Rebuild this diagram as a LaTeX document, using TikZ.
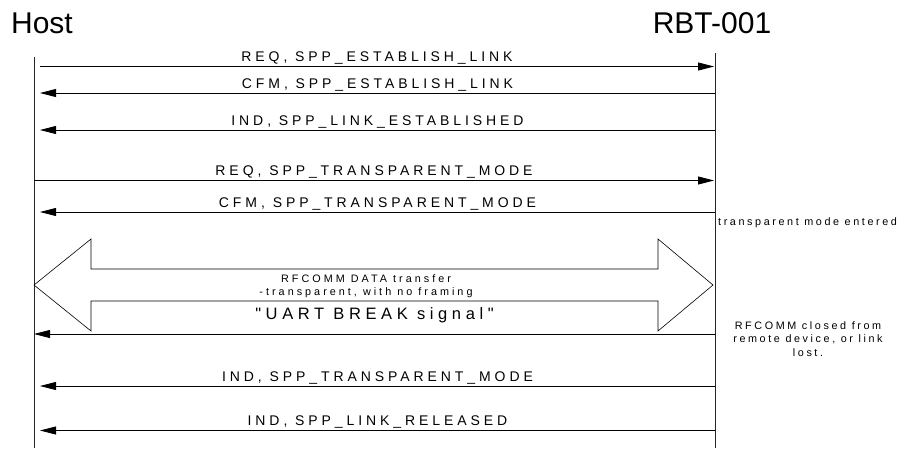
\documentclass[tikz,border=0pt]{standalone}
\usepackage{fontspec}
\setmainfont{Liberation Sans}
\newfontfamily\spaced[LetterSpace=28]{Liberation Sans}
\newfontfamily\notefont[LetterSpace=24]{Liberation Sans}
\usetikzlibrary{arrows.meta}

\begin{document}
\begin{tikzpicture}[x=1pt, y=-1pt,
    lifeline/.style={draw=black!85, line width=1pt},
    msg/.style={draw, line width=0.8pt, -{Triangle[length=16pt,width=8pt]}},
    lbl/.style={anchor=base, inner sep=0pt, yshift=5pt, font=\spaced\fontsize{14}{16}\selectfont},
    note/.style={inner sep=0pt, font=\notefont\fontsize{10.8}{13.2}\selectfont},
    title/.style={anchor=base, inner sep=0pt, font=\fontsize{30}{32}\selectfont}]

    \useasboundingbox (0,0) rectangle (903,448);

    % titles
    \node[title] (host) at (42,33) {Host};
    \node[title] (rbt) at (712,33) {RBT-001};

    % lifelines
    \coordinate (hostTop) at (34,57);
    \coordinate (hostEnd) at (34,448);
    \coordinate (rbtTop) at (715,53);
    \coordinate (rbtEnd) at (715,448);
    \draw[lifeline] (hostTop) -- (hostEnd);
    \draw[lifeline] (rbtTop) -- (rbtEnd);

    % message end points
    \coordinate (h1) at (40,66.5);   \coordinate (r1) at (714,66.5);
    \coordinate (h2) at (40,93);     \coordinate (r2) at (715,93);
    \coordinate (h3) at (40,130);    \coordinate (r3) at (715,130);
    \coordinate (h4) at (34,180.5);  \coordinate (r4) at (714,180.5);
    \coordinate (h5) at (40,212);    \coordinate (r5) at (715,212);
    \coordinate (h7) at (34,334);    \coordinate (r7) at (715,334);
    \coordinate (h8) at (40,386);    \coordinate (r8) at (715,386);
    \coordinate (h9) at (40,430.5);  \coordinate (r9) at (715,430.5);

    % messages
    \draw[msg] (h1) -- (r1) node[lbl, midway] {REQ, SPP\_ESTABLISH\_LINK};
    \draw[msg] (r2) -- (h2) node[lbl, midway] {CFM, SPP\_ESTABLISH\_LINK};
    \draw[msg] (r3) -- (h3) node[lbl, midway] {IND, SPP\_LINK\_ESTABLISHED};
    \draw[msg] (h4) -- (r4) node[lbl, midway] {REQ, SPP\_TRANSPARENT\_MODE};
    \draw[msg] (r5) -- (h5) node[lbl, midway] {CFM, SPP\_TRANSPARENT\_MODE};
    \draw[msg] (r7) -- (h7) node[lbl, midway, yshift=10pt, font=\spaced\fontsize{16.5}{19}\selectfont] {"UART BREAK signal"};
    \draw[msg] (r8) -- (h8) node[lbl, midway] {IND, SPP\_TRANSPARENT\_MODE};
    \draw[msg] (r9) -- (h9) node[lbl, midway] {IND, SPP\_LINK\_RELEASED};

    % data transfer
    \draw[line width=0.6pt] (34,285) -- (91,239) -- (91,269) -- (658,269) -- (658,239)
        -- (713,285) -- (658,331) -- (658,301) -- (91,301) -- (91,331) -- cycle;
    \node[note, align=center, font=\spaced\fontsize{10.8}{13.2}\selectfont] (data) at (366,286)
        {RFCOMM DATA transfer\\-transparent, with no framing};

    % notes
    \node[note, anchor=base west] (entered) at (718,225) {transparent mode entered};
    \node[note, align=center] (closed) at (808,339) {RFCOMM closed from\\remote device, or link\\lost.};

\end{tikzpicture}
\end{document}
